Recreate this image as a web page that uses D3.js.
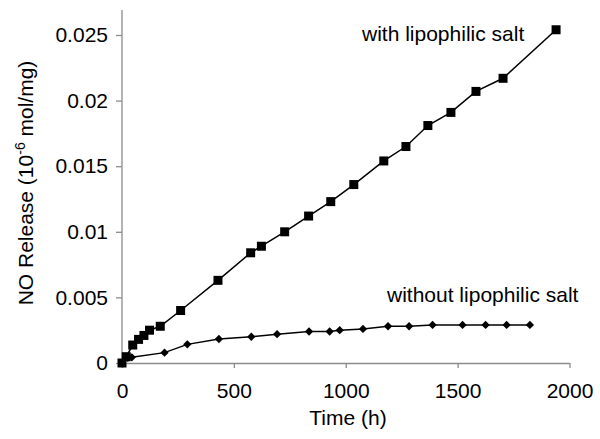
<!DOCTYPE html>
<html>
<head>
<meta charset="utf-8">
<script src="https://cdn.jsdelivr.net/npm/d3@7"></script>
<style>
  body { margin: 0; background: #fff; }
  svg { font-family: "Liberation Sans", Arial, sans-serif; }
</style>
</head>
<body>
<div id="chart"></div>
<script>
// Time (h) and NO release (10^-6 mol/mg)
const withTime = [0, 19, 48, 74, 98, 123, 171, 262, 429, 575, 623, 727, 834, 933, 1036, 1170, 1269, 1367, 1470, 1582, 1703, 1940];
const withValue = [0, 0.00048, 0.00137, 0.0018, 0.0021, 0.0025, 0.0028, 0.0040, 0.0063, 0.0084, 0.0089,
                   0.0100, 0.0112, 0.0123, 0.0136, 0.0154, 0.0165, 0.0181, 0.0191, 0.0207, 0.0217, 0.0254];

const withoutTime = [0, 26, 44, 190, 292, 433, 578, 693, 836, 928, 973, 1077, 1189, 1283, 1388, 1522, 1625, 1719, 1823];
const withoutValue = [0, 0.0004, 0.00043, 0.00079, 0.00142, 0.00183, 0.0020, 0.0022, 0.0024, 0.0024, 0.0025,
                      0.0026, 0.0028, 0.0028, 0.0029, 0.0029, 0.0029, 0.0029, 0.0029];

const xTicks = [0, 500, 1000, 1500, 2000];
const yTicks = [0, 0.005, 0.01, 0.015, 0.02, 0.025];

const width = 600, height = 439;
const margin = { top: 10, right: 30, bottom: 76, left: 122 };

const svg = d3.select("#chart").append("svg")
    .attr("width", width)
    .attr("height", height);

const x = d3.scaleLinear().domain([0, 2000]).range([margin.left, 569.5]);
const y = d3.scaleLinear().domain([0, 0.005]).range([363, 297.4]);
const yTop = margin.top;

// axes
const xAxis = svg.append("g")
    .attr("transform", `translate(0,${y(0)})`)
    .call(d3.axisBottom(x).tickValues(xTicks).tickSize(5).tickSizeOuter(0).tickPadding(12).tickFormat(d3.format("d")));

const yAxis = svg.append("g")
    .attr("transform", `translate(${x(0)},0)`)
    .call(d3.axisLeft(y).tickValues(yTicks).tickSize(6).tickSizeOuter(0).tickPadding(8).tickFormat(d => d === 0 ? "0" : String(d)));
yAxis.select(".domain").attr("d", `M0,${y(0)}V${yTop}`);

[xAxis, yAxis].forEach(a => {
    a.select(".domain").attr("stroke", "#8c8c8c").attr("stroke-width", 1.3);
    a.selectAll(".tick line").attr("stroke", "#8c8c8c").attr("stroke-width", 1.3);
    a.selectAll(".tick text").attr("fill", "#000").style("font-size", "21px");
});
xAxis.selectAll(".tick text").attr("dy", "0.85em");

// axis titles
svg.append("text")
    .attr("x", 348)
    .attr("y", 425)
    .attr("text-anchor", "middle")
    .style("font-size", "21px")
    .text("Time (h)");

const yTitle = svg.append("text")
    .attr("transform", `translate(33,183) rotate(-90)`)
    .attr("text-anchor", "middle")
    .style("font-size", "21px");
yTitle.append("tspan").text("NO Release (10");
yTitle.append("tspan").attr("dy", -8).style("font-size", "14px").text("-6");
yTitle.append("tspan").attr("dy", 8).text(" mol/mg)");

// lines
const line = d3.line().x(d => x(d[0])).y(d => y(d[1]));
const withData = withTime.map((t, i) => [t, withValue[i]]);
const withoutData = withoutTime.map((t, i) => [t, withoutValue[i]]);

svg.append("path")
    .datum(withoutData)
    .attr("d", line)
    .attr("fill", "none")
    .attr("stroke", "#000")
    .attr("stroke-width", 1.5);

svg.append("path")
    .datum(withData)
    .attr("d", line)
    .attr("fill", "none")
    .attr("stroke", "#000")
    .attr("stroke-width", 1.5);

// markers
svg.selectAll("path.diamond")
    .data(withoutData)
    .enter()
    .append("path")
    .attr("class", "diamond")
    .attr("d", d3.symbol().type(d3.symbolDiamond2).size(44))
    .attr("transform", d => `translate(${x(d[0])},${y(d[1])})`)
    .attr("fill", "#000");

svg.selectAll("rect.square")
    .data(withData)
    .enter()
    .append("rect")
    .attr("class", "square")
    .attr("x", d => x(d[0]) - 4.5)
    .attr("y", d => y(d[1]) - 4.5)
    .attr("width", 9)
    .attr("height", 9)
    .attr("fill", "#000");

// labels
svg.append("text")
    .attr("x", 362)
    .attr("y", 41)
    .style("font-size", "21px")
    .text("with lipophilic salt");

svg.append("text")
    .attr("x", 387)
    .attr("y", 302)
    .style("font-size", "21px")
    .text("without lipophilic salt");
</script>
</body>
</html>
